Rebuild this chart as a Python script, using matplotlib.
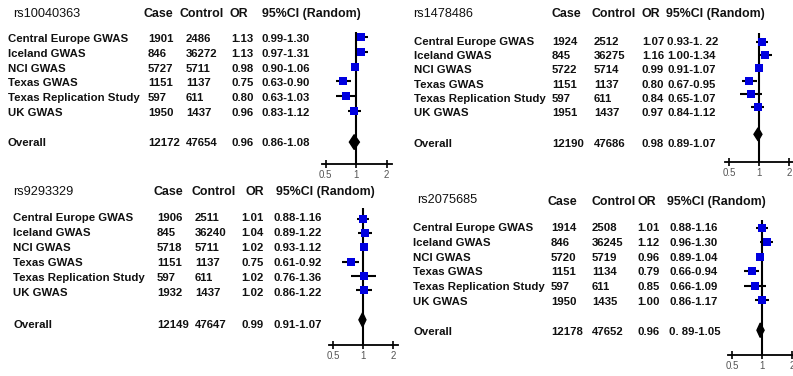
import numpy as np
import matplotlib.pyplot as plt
from matplotlib.ticker import FixedLocator, NullLocator, FixedFormatter

plt.rcParams['font.family'] = ['Liberation Sans', 'DejaVu Sans']

# ---------------- data ----------------
snps = ["rs10040363", "rs1478486", "rs9293329", "rs2075685"]
studies = ["Central Europe GWAS", "Iceland GWAS", "NCI GWAS", "Texas GWAS",
           "Texas Replication Study", "UK GWAS"]
overall_label = "Overall"
headers = ["Case", "Control", "OR", "95%CI (Random)"]

cases = [[1901, 846, 5727, 1151, 597, 1950],
         [1924, 845, 5722, 1151, 597, 1951],
         [1906, 845, 5718, 1151, 597, 1932],
         [1914, 846, 5720, 1151, 597, 1950]]
controls = [[2486, 36272, 5711, 1137, 611, 1437],
            [2512, 36275, 5714, 1137, 611, 1437],
            [2511, 36240, 5711, 1137, 611, 1437],
            [2508, 36245, 5719, 1134, 611, 1435]]
ors = [[1.13, 1.13, 0.98, 0.75, 0.80, 0.96],
       [1.07, 1.16, 0.99, 0.80, 0.84, 0.97],
       [1.01, 1.04, 1.02, 0.75, 1.02, 1.02],
       [1.01, 1.12, 0.96, 0.79, 0.85, 1.00]]
ci_lo = [[0.99, 0.97, 0.90, 0.63, 0.63, 0.83],
         [0.93, 1.00, 0.91, 0.67, 0.65, 0.84],
         [0.88, 0.89, 0.93, 0.61, 0.76, 0.86],
         [0.88, 0.96, 0.89, 0.66, 0.66, 0.86]]
ci_hi = [[1.30, 1.31, 1.06, 0.90, 1.03, 1.12],
         [1.22, 1.34, 1.07, 0.95, 1.07, 1.12],
         [1.16, 1.22, 1.12, 0.92, 1.36, 1.22],
         [1.16, 1.30, 1.04, 0.94, 1.09, 1.17]]
ci_text = [["0.99-1.30", "0.97-1.31", "0.90-1.06", "0.63-0.90", "0.63-1.03", "0.83-1.12"],
           ["0.93-1. 22", "1.00-1.34", "0.91-1.07", "0.67-0.95", "0.65-1.07", "0.84-1.12"],
           ["0.88-1.16", "0.89-1.22", "0.93-1.12", "0.61-0.92", "0.76-1.36", "0.86-1.22"],
           ["0.88-1.16", "0.96-1.30", "0.89-1.04", "0.66-0.94", "0.66-1.09", "0.86-1.17"]]
ov_case = [12172, 12190, 12149, 12178]
ov_control = [47654, 47686, 47647, 47652]
ov_or = [0.96, 0.98, 0.99, 0.96]
ov_lo = [0.86, 0.89, 0.91, 0.89]
ov_hi = [1.08, 1.07, 1.07, 1.05]
ov_text = ["0.86-1.08", "0.89-1.07", "0.91-1.07", "0. 89-1.05"]
ticks = [0.5, 1, 2]
tick_labels = ["0.5", "1", "2"]

# ---------------- layout (pixels) ----------------
W, H = 793, 376
layout = [
    dict(title=(13, 14), hy=14, hx=[143, 179, 230, 262], lx=8, cx=[148, 186, 231, 262],
         ry0=39, rstep=14.8, oy=143,
         fx1=356, fs=30.5, fy0=37, fstep=14.8, faxis=164, ftop=32),
    dict(title=(413, 14), hy=14, hx=[552, 592, 642, 666], lx=414, cx=[552, 594, 642, 667],
         ry0=42, rstep=14.2, oy=144,
         fx1=759, fs=30.0, fy0=42, fstep=13.0, faxis=162, ftop=33),
    dict(title=(13, 192), hy=192, hx=[153, 192, 246, 276], lx=13, cx=[157, 195, 241, 274],
         ry0=218, rstep=15.0, oy=325,
         fx1=363, fs=30.0, fy0=219, fstep=14.2, faxis=345, ftop=208),
    dict(title=(417, 200), hy=202, hx=[547, 591, 637, 667], lx=413, cx=[551, 592, 637, 669],
         ry0=228, rstep=14.8, oy=332,
         fx1=762, fs=30.0, fy0=228, fstep=14.4, faxis=355, ftop=220),
]

fig = plt.figure(figsize=(W / 100, H / 100), dpi=100)
bg = fig.add_axes([0, 0, 1, 1])
bg.set_xlim(0, W)
bg.set_ylim(H, 0)
bg.axis('off')

row_fs = 8.2
head_fs = 8.9
title_fs = 9.2
txt_col = '#111111'
blue = '#0000e0'
xlo, xhi = 0.46, 2.27
overall_idx = 7.1

for p, L in enumerate(layout):
    bg.text(L['title'][0], L['title'][1], snps[p], fontsize=title_fs, va='center',
            ha='left', color=txt_col)
    for hx, h in zip(L['hx'], headers):
        bg.text(hx, L['hy'], h, fontsize=head_fs, fontweight='bold', va='center',
                ha='left', color=txt_col)
    for i, s in enumerate(studies):
        y = L['ry0'] + i * L['rstep']
        vals = [str(cases[p][i]), str(controls[p][i]), f"{ors[p][i]:.2f}", ci_text[p][i]]
        bg.text(L['lx'], y, s, fontsize=row_fs, fontweight='bold', va='center', color=txt_col)
        for cx, v in zip(L['cx'], vals):
            bg.text(cx, y, v, fontsize=row_fs, fontweight='bold', va='center', color=txt_col)
    y = L['oy']
    bg.text(L['lx'], y, overall_label, fontsize=row_fs, fontweight='bold', va='center',
            color=txt_col)
    for cx, v in zip(L['cx'], [str(ov_case[p]), str(ov_control[p]), f"{ov_or[p]:.2f}", ov_text[p]]):
        bg.text(cx, y, v, fontsize=row_fs, fontweight='bold', va='center', color=txt_col)

    # forest axes
    left = L['fx1'] + L['fs'] * np.log2(xlo)
    right = L['fx1'] + L['fs'] * np.log2(xhi)
    top, bot = L['ftop'], L['faxis']
    ax = fig.add_axes([left / W, 1 - bot / H, (right - left) / W, (bot - top) / H])
    ax.set_xscale('log')
    ax.set_xlim(xlo, xhi)
    ax.set_ylim((bot - L['fy0']) / L['fstep'], (top - L['fy0']) / L['fstep'])
    ax.patch.set_alpha(0)
    for sp in ['top', 'left', 'right']:
        ax.spines[sp].set_visible(False)
    ax.spines['bottom'].set_linewidth(1.3)
    ax.axvline(1, color='black', lw=1.5, zorder=1)
    ax.xaxis.set_major_locator(FixedLocator(ticks))
    ax.xaxis.set_major_formatter(FixedFormatter(tick_labels))
    ax.xaxis.set_minor_locator(NullLocator())
    ax.tick_params(axis='x', direction='inout', length=6, width=1.2, labelsize=7,
                   labelcolor='#555555', pad=1)
    ax.set_yticks([])
    rows = np.arange(len(studies))
    ax.hlines(rows, ci_lo[p], ci_hi[p], color='black', lw=1.5, zorder=2)
    ax.plot(ors[p], rows, 's', color=blue, markersize=5.6, zorder=3, markeredgewidth=0)
    dx = [ov_lo[p], ov_or[p], ov_hi[p], ov_or[p]]
    dy = [overall_idx, overall_idx - 0.5, overall_idx, overall_idx + 0.5]
    ax.fill(dx, dy, color='black', zorder=3)

fig.savefig('out.png', dpi=100)
